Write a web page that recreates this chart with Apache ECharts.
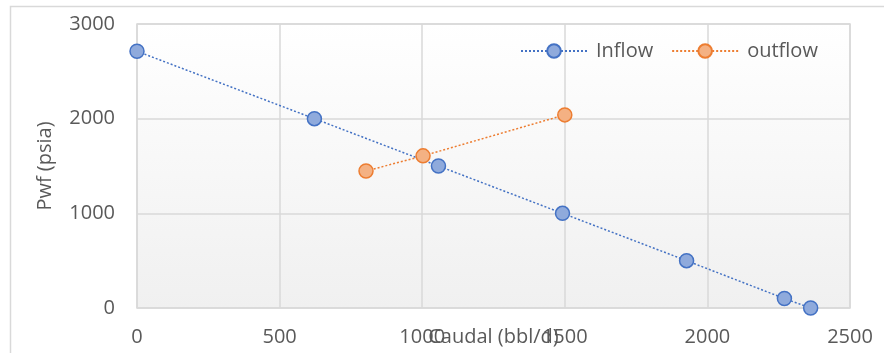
<!DOCTYPE html>
<html>
<head>
<meta charset="utf-8">
<script src="https://cdn.jsdelivr.net/npm/echarts@6/dist/echarts.min.js"></script>
<style>
  html, body { margin: 0; padding: 0; background: #ffffff; }
  #chart { width: 884px; height: 353px; }
</style>
</head>
<body>
<div id="chart"></div>
<script>
// Inflow (IPR) curve: flow rate vs bottom-hole flowing pressure
const inflowQ = [0, 622, 1057, 1492, 1927, 2270, 2362];
const inflowP = [2712, 2000, 1500, 1000, 500, 100, 0];

// Outflow (tubing) curve
const outflowQ = [803, 1003, 1500];
const outflowP = [1447, 1607, 2040];

const seriesNames = ['Inflow', 'outflow'];
const xTicks = { min: 0, max: 2500, interval: 500 };
const yTicks = { min: 0, max: 3000, interval: 1000 };

const pair = (xs, ys) => xs.map((x, i) => [x, ys[i]]);
const plain = v => String(v);

const textColor = '#595959';
const gridColor = '#d9d9d9';
const fontFamily = '"Open Sans", "Liberation Sans", sans-serif';

const chart = echarts.init(document.getElementById('chart'), null, { renderer: 'canvas' });

chart.setOption({
  animation: false,
  backgroundColor: '#ffffff',
  textStyle: { fontFamily: fontFamily },
  graphic: [{
    type: 'rect',
    silent: true,
    z: -10,
    shape: { x: 10.5, y: 6.5, width: 900, height: 400 },
    style: { fill: 'none', stroke: gridColor, lineWidth: 1.5 }
  }],
  grid: {
    left: 137, right: 34, top: 24, bottom: 45,
    containLabel: false,
    outerBoundsMode: 'none',
    show: true,
    borderColor: gridColor,
    borderWidth: 1.5,
    backgroundColor: {
      type: 'linear', x: 0, y: 0, x2: 0, y2: 1,
      colorStops: [{ offset: 0, color: '#ffffff' }, { offset: 1, color: '#f0f0f0' }]
    }
  },
  legend: {
    data: seriesNames,
    left: 515,
    top: 36,
    itemWidth: 66,
    itemHeight: 17,
    itemGap: 18,
    textStyle: { color: textColor, fontSize: 20, fontFamily: fontFamily, padding: [0, 0, 0, 4] }
  },
  xAxis: {
    type: 'value',
    min: xTicks.min, max: xTicks.max, interval: xTicks.interval,
    name: 'Caudal (bbl/d)',
    nameLocation: 'middle',
    nameGap: 19,
    nameMoveOverlap: false,
    nameTextStyle: { color: textColor, fontSize: 20, fontFamily: fontFamily },
    axisLine: { show: false },
    axisTick: { show: false },
    axisLabel: { color: textColor, fontSize: 20, margin: 19, fontFamily: fontFamily, formatter: plain },
    splitLine: { show: true, lineStyle: { color: gridColor, width: 1.5 } }
  },
  yAxis: {
    type: 'value',
    min: yTicks.min, max: yTicks.max, interval: yTicks.interval,
    name: 'Pwf (psia)',
    nameLocation: 'middle',
    nameGap: 82,
    nameMoveOverlap: false,
    nameTextStyle: { color: textColor, fontSize: 20, fontFamily: fontFamily },
    axisLine: { show: false },
    axisTick: { show: false },
    axisLabel: { color: textColor, fontSize: 20, margin: 22, fontFamily: fontFamily, formatter: plain },
    splitLine: { show: true, lineStyle: { color: gridColor, width: 1.5 } }
  },
  series: [
    {
      name: seriesNames[0],
      type: 'line',
      data: pair(inflowQ, inflowP),
      symbol: 'circle',
      symbolSize: 14,
      lineStyle: { color: '#4472c4', width: 1.5, type: [2, 2] },
      itemStyle: { color: '#8faadc', borderColor: '#4472c4', borderWidth: 1.5 },
      z: 3
    },
    {
      name: seriesNames[1],
      type: 'line',
      data: pair(outflowQ, outflowP),
      symbol: 'circle',
      symbolSize: 14,
      lineStyle: { color: '#ed7d31', width: 1.5, type: [2, 2] },
      itemStyle: { color: '#f4b183', borderColor: '#ed7d31', borderWidth: 1.5 },
      z: 4
    }
  ]
});
</script>
</body>
</html>
